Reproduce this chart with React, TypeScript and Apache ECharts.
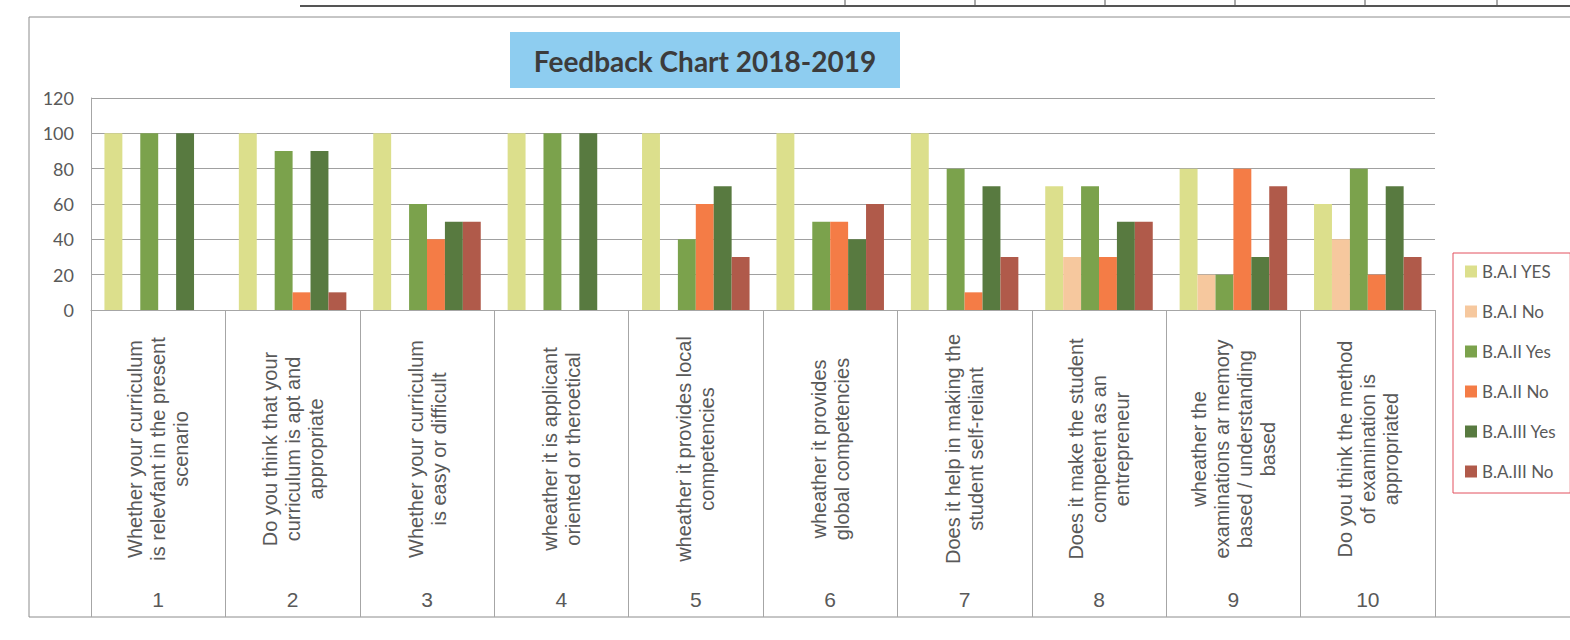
import React, { useEffect, useRef } from "react";
import * as echarts from "echarts";

const categories = [
  "Whether your curriculum\nis relevfant in the present\nscenario",
  "Do you think that your\ncurriculum is apt and\nappropriate",
  "Whether your curriculum\nis easy or difficult",
  "wheather it is applicant\noriented or theroetical",
  "wheather it provides local\ncompetencies",
  "wheather it provides\nglobal competencies",
  "Does it help in making the\nstudent self-reliant",
  "Does it make the student\ncompetent as an\nentrepreneur",
  "wheather the\nexaminations ar memory\nbased / understanding\nbased",
  "Do you think the method\nof examination is\nappropriated",
];
const questionNumbers = ["1", "2", "3", "4", "5", "6", "7", "8", "9", "10"];

const seriesNames = ["B.A.I YES", "B.A.I No", "B.A.II Yes", "B.A.II No", "B.A.III Yes", "B.A.III No"];
const baIYes = [100, 100, 100, 100, 100, 100, 100, 70, 80, 60];
const baINo = [0, 0, 0, 0, 0, 0, 0, 30, 20, 40];
const baIIYes = [100, 90, 60, 100, 40, 50, 80, 70, 20, 80];
const baIINo = [0, 10, 40, 0, 60, 50, 10, 30, 80, 20];
const baIIIYes = [100, 90, 50, 100, 70, 40, 70, 50, 30, 70];
const baIIINo = [0, 10, 50, 0, 30, 60, 30, 50, 70, 30];
const seriesColors = ["#dcdf8c", "#f6c89e", "#7ba24c", "#f47c46", "#587a40", "#b05a4a"];

const yTicks = { min: 0, max: 120, interval: 20 };
const title = "Feedback Chart 2018-2019";

export default function App() {
  const ref = useRef<HTMLDivElement>(null);
  useEffect(() => {
    if (!ref.current) return;
    const chart = echarts.init(ref.current, null, { renderer: "svg" });
    const data = [baIYes, baINo, baIIYes, baIINo, baIIIYes, baIIINo];
    const gray = "#595959";
    const option: any = {
      animation: false,
      backgroundColor: "#ffffff",
      grid: { left: 91, right: 135, top: 98, bottom: 330 },
      legend: {
        orient: "vertical",
        left: 1453,
        top: 253,
        icon: "rect",
        itemWidth: 12,
        itemHeight: 12,
        itemGap: 23,
        padding: [10, 14, 13, 12],
        borderColor: "#e2505e",
        borderWidth: 1,
        textStyle: { fontSize: 17, color: gray, fontFamily: "Lato", lineHeight: 16 },
        data: seriesNames,
      },
      xAxis: [
        {
          type: "category",
          data: categories,
          axisLine: { show: true, lineStyle: { color: "#a6a6a6" } },
          axisTick: { show: true, length: 307, lineStyle: { color: "#a6a6a6" } },
          axisLabel: {
            interval: 0,
            rotate: 90,
            align: "center",
            verticalAlign: "middle",
            margin: 139,
            fontSize: 20,
            lineHeight: 23,
            fontFamily: "Liberation Sans",
            color: gray,
          },
        },
        {
          type: "category",
          data: questionNumbers,
          position: "bottom",
          axisLine: { show: false },
          axisTick: { show: false },
          axisLabel: { interval: 0, margin: 279, fontSize: 21, fontFamily: "Liberation Sans", color: gray },
        },
      ],
      yAxis: {
        type: "value",
        min: yTicks.min,
        max: yTicks.max,
        interval: yTicks.interval,
        axisLine: { show: true, lineStyle: { color: "#a6a6a6" } },
        axisTick: { show: false },
        splitLine: { lineStyle: { color: "#a0a0a0" } },
        axisLabel: { fontSize: 18, color: gray, fontFamily: "Lato", margin: 17 },
      },
      series: seriesNames.map((name, i) => ({
        name,
        type: "bar",
        xAxisIndex: 0,
        data: data[i],
        barGap: "0%",
        barCategoryGap: "20%",
        itemStyle: { color: seriesColors[i] },
      })),
      graphic: [
        {
          type: "rect",
          shape: { x: 29, y: 17, width: 1560, height: 600 },
          style: { fill: "none", stroke: "#8c8c8c", lineWidth: 1 },
          silent: true,
        },
        {
          type: "line",
          shape: { x1: 300, y1: 6, x2: 1570, y2: 6 },
          style: { stroke: "#555555", lineWidth: 2 },
        },
        ...[845, 975, 1105, 1235, 1365, 1497].map((x) => ({
          type: "line",
          shape: { x1: x, y1: 0, x2: x, y2: 6 },
          style: { stroke: "#555555", lineWidth: 1 },
        })),
        {
          type: "rect",
          shape: { x: 510, y: 32, width: 390, height: 56 },
          style: { fill: "#8ecdf0" },
        },
        {
          type: "text",
          x: 705,
          y: 61,
          style: {
            text: title,
            fill: "#3c3c3c",
            fontSize: 28,
            fontWeight: "bold",
            fontFamily: "Lato",
            align: "center",
            verticalAlign: "middle",
          },
        },
      ],
    };
    chart.setOption(option);
    return () => chart.dispose();
  }, []);
  return (
    <div
      ref={ref}
      style={{ position: "absolute", left: 0, top: 0, width: 1570, height: 640 }}
    />
  );
}
